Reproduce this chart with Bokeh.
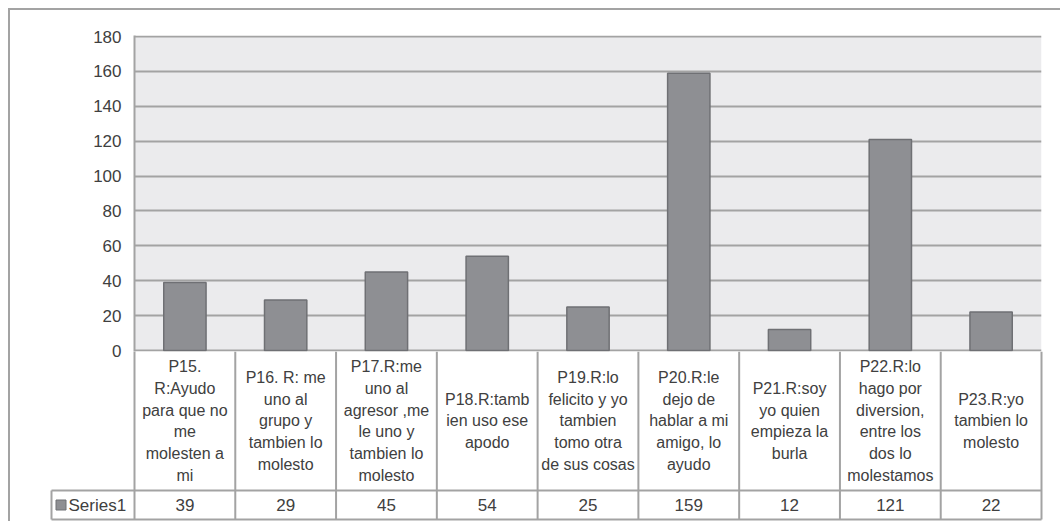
import numpy as np
from bokeh.plotting import figure
from bokeh.models import Range1d
from bokeh.layouts import column
from bokeh.embed import file_html
from bokeh.resources import INLINE
from bokeh.core.properties import value

# ---------------- data ----------------
categories = [
    "P15.\nR:Ayudo\npara que no\nme\nmolesten a\nmi",
    "P16. R: me\nuno al\ngrupo y\ntambien lo\nmolesto",
    "P17.R:me\nuno al\nagresor ,me\nle uno y\ntambien lo\nmolesto",
    "P18.R:tamb\nien uso ese\napodo",
    "P19.R:lo\nfelicito y yo\ntambien\ntomo otra\nde sus cosas",
    "P20.R:le\ndejo de\nhablar a mi\namigo, lo\nayudo",
    "P21.R:soy\nyo quien\nempieza la\nburla",
    "P22.R:lo\nhago por\ndiversion,\nentre los\ndos lo\nmolestamos",
    "P23.R:yo\ntambien lo\nmolesto",
]
values = [39, 29, 45, 54, 25, 159, 12, 121, 22]
series_name = "Series1"
y_ticks = [0, 20, 40, 60, 80, 100, 120, 140, 160, 180]

# ---------------- style ----------------
FONT = "Liberation Sans"
TEXT = "#404040"
GRID = "#a3a3a3"
BG = "#ebebed"
BAR_FILL = "#8e8f93"
BAR_LINE = "#6f7074"

n = len(values)
xs = np.arange(n) + 0.5

PLOT_W = 907          # px width of plotting area
PLOT_SPAN_PX = 314    # px between 0 and max tick
ppu = PLOT_W / n
ymax = y_ticks[-1]
ppy = PLOT_SPAN_PX / ymax
TOTAL_W = 1050
LEFT = 124
OV = 12               # overlap of the table over the chart's bottom border

# ---------------- chart ----------------
p = figure(width=TOTAL_W, height=25 + PLOT_SPAN_PX + 2 + OV,
           x_range=Range1d(0, n),
           y_range=Range1d(-1 / ppy, ymax + 1 / ppy),
           min_border_left=LEFT, min_border_right=TOTAL_W - LEFT - PLOT_W,
           min_border_top=25, min_border_bottom=OV,
           x_axis_location=None, frame_align=False,
           output_backend="svg", toolbar_location=None)
p.outline_line_color = None
p.background_fill_color = "white"
p.border_fill_color = "white"
p.xgrid.visible = False

p.quad(left=[0], right=[n], bottom=[0], top=[ymax], fill_color=BG,
       line_color=None, level="image")

p.yaxis.ticker = y_ticks
p.yaxis.axis_line_color = GRID
p.yaxis.axis_line_width = 2
p.yaxis.major_tick_out = 0
p.yaxis.major_tick_in = 0
p.yaxis.minor_tick_out = 0
p.yaxis.minor_tick_in = 0
p.yaxis.major_label_standoff = 13
p.yaxis.major_label_text_font = FONT
p.yaxis.major_label_text_font_size = "17px"
p.yaxis.major_label_text_color = TEXT
p.ygrid.grid_line_color = GRID
p.ygrid.grid_line_width = 2

p.vbar(x=xs, top=values, bottom=0, width=0.42,
       fill_color=BAR_FILL, line_color=BAR_LINE, line_width=1.5)

# ---------------- data table ----------------
VAL_H = 29
LAB_H = 139
leg_w = 83 / ppu
pad = 2 / ppu
t_frame_w = int(round((n + leg_w + 2 * pad) * ppu))
t_left = LEFT - 83 - 2
t = figure(width=TOTAL_W, height=VAL_H + LAB_H + 2,
           x_range=Range1d(-leg_w - pad, n + pad),
           y_range=Range1d(-2, VAL_H + LAB_H),
           min_border_left=t_left, min_border_right=TOTAL_W - t_left - t_frame_w,
           min_border_top=0, min_border_bottom=0,
           x_axis_location=None, y_axis_location=None, frame_align=False,
           output_backend="svg", toolbar_location=None,
           styles={"margin-top": f"-{OV}px"})
t.outline_line_color = None
t.xgrid.visible = False
t.ygrid.visible = False
t.background_fill_color = None
t.border_fill_color = None

bounds = np.arange(n + 1)
t.segment(x0=bounds, y0=0, x1=bounds, y1=VAL_H + LAB_H,
          line_color=GRID, line_width=2)
t.segment(x0=[-leg_w], y0=[0], x1=[-leg_w], y1=[VAL_H],
          line_color=GRID, line_width=2)
t.segment(x0=[-leg_w, -leg_w], y0=[0, VAL_H], x1=[n, n], y1=[0, VAL_H],
          line_color=GRID, line_width=2)

t.text(x=xs, y=[VAL_H + LAB_H / 2] * n, text=categories,
       text_align="center", text_baseline="middle",
       text_font=value(FONT), text_font_size="16px", text_color=TEXT,
       text_line_height=1.28)
t.text(x=xs, y=[VAL_H / 2] * n, text=[str(v) for v in values],
       text_align="center", text_baseline="middle",
       text_font=value(FONT), text_font_size="17px", text_color=TEXT)

t.scatter(x=[-leg_w + 9.5 / ppu], y=[VAL_H / 2], marker="square", size=10,
          fill_color=BAR_FILL, line_color=BAR_LINE, line_width=1)
t.text(x=[-leg_w + 17 / ppu], y=[VAL_H / 2], text=[series_name],
       text_align="left", text_baseline="middle",
       text_font=value(FONT), text_font_size="17px", text_color=TEXT)

layout = column(p, t, styles={"margin-left": "8px", "margin-top": "8px",
                              "border-left": f"2px solid {GRID}",
                              "border-top": f"2px solid {GRID}"})

open("out.html", "w").write(file_html(layout, INLINE))
